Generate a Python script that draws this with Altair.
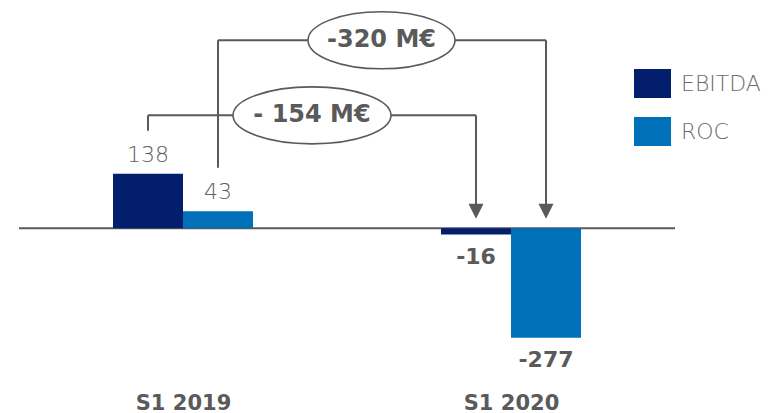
import altair as alt
import pandas as pd

# ---- data ----
categories = ["S1 2019", "S1 2020"]
series = ["EBITDA", "ROC"]
ebitda = [138, -16]
roc = [43, -277]
deltas = ["- 154 M€", "-320 M€"]

colors = ["#041E6E", "#0070B8"]
GRAY = "#5A5A5A"
FONT = "DejaVu Sans"

# ---- scale geometry (data units) ----
W, H = 759, 405
PX_X = 328.0          # pixels per category step
PX_Y = 0.395          # pixels per M€
X0 = 175.0            # pixel of first category centre
Y0 = 220.3            # pixel of zero line
x_dom = [-X0 / PX_X, (W - X0) / PX_X]
y_dom = [-(H - Y0) / PX_Y, Y0 / PX_Y]
BW = 70 / PX_X        # bar width in category units

rows = []
for ci, cat in enumerate(categories):
    for si, (s, vals) in enumerate(zip(series, [ebitda, roc])):
        left = ci - BW if si == 0 else ci
        rows.append(dict(cat=cat, series=s, value=vals[ci], x=left, x2=left + BW,
                         xc=left + BW / 2, label=str(vals[ci]),
                         pos=vals[ci] >= 0))
bars_df = pd.DataFrame(rows)

xs = alt.Scale(domain=x_dom, nice=False, zero=False)
ys = alt.Scale(domain=y_dom, nice=False, zero=False)

x_axis = alt.Axis(values=[0, 1],
                  labelExpr="datum.value == 0 ? '%s' : '%s'" % tuple(categories),
                  domain=False, ticks=False, grid=False, title=None,
                  labelFont=FONT, labelFontSize=21, labelFontWeight="bold",
                  labelColor=GRAY, labelBaseline="alphabetic", labelPadding=-4)

X = lambda f: alt.X(f, type="quantitative", scale=xs, axis=x_axis)
Y = lambda f: alt.Y(f, type="quantitative", scale=ys, axis=None)

color = alt.Color("series:N", scale=alt.Scale(domain=series, range=colors),
                  legend=alt.Legend(title=None, orient="none", legendX=626, legendY=57,
                                    symbolType="M-1,-0.78L1,-0.78L1,0.78L-1,0.78Z",
                                    symbolSize=1369, symbolStrokeWidth=0,
                                    labelFont=FONT, labelFontSize=22, labelFontWeight=300,
                                    labelColor="#6A6A6A", labelOffset=10,
                                    rowPadding=15, padding=0, labelLimit=300))

bars = alt.Chart(bars_df).mark_bar().encode(
    x=X("x"),
    x2="x2:Q",
    y=Y("value"),
    y2=alt.datum(0),
    color=color,
)

pos_labels = alt.Chart(bars_df).transform_filter("datum.pos").mark_text(
    font=FONT, fontSize=22, fontWeight=300, color="#606060", baseline="alphabetic", dy=-12
).encode(x=X("xc"), y=Y("value"), text="label:N")

neg_labels = alt.Chart(bars_df).transform_filter("!datum.pos").mark_text(
    font=FONT, fontSize=22, fontWeight="bold", color=GRAY, baseline="alphabetic", dy=29
).encode(x=X("xc"), y=Y("value"), text="label:N")

# zero line
zero_df = pd.DataFrame([dict(x=-0.5, x2=1.5, y=0)])
zero = alt.Chart(zero_df).mark_rule(color=GRAY, strokeWidth=2).encode(
    x=X("x"), x2="x2:Q", y=Y("y"))

# bracket annotations
e19, r19 = -BW / 2, BW / 2
e20, r20 = 1 - BW / 2, 1 + BW / 2
lvl154, lvl320 = 286, 476
arrow_tip = 24
arrow_c = arrow_tip + 7.5 / PX_Y
segs = pd.DataFrame([
    dict(x=e19, x2=e19, y=247, y2=lvl154),
    dict(x=e19, x2=e20, y=lvl154, y2=lvl154),
    dict(x=e20, x2=e20, y=lvl154, y2=arrow_c),
    dict(x=r19, x2=r19, y=153, y2=lvl320),
    dict(x=r19, x2=r20, y=lvl320, y2=lvl320),
    dict(x=r20, x2=r20, y=lvl320, y2=arrow_c),
])
lines = alt.Chart(segs).mark_rule(color=GRAY, strokeWidth=2).encode(
    x=X("x"), x2="x2:Q", y=Y("y"), y2="y2:Q")

arrows_df = pd.DataFrame([dict(x=e20, y=arrow_c), dict(x=r20, y=arrow_c)])
arrows = alt.Chart(arrows_df).mark_point(
    shape="M-1,-1L1,-1L0,1Z", size=225, filled=True, color=GRAY, opacity=1, strokeWidth=0
).encode(x=X("x"), y=Y("y"))


def ell(ry):
    k = 0.5523
    return ("M-1,0C-1,{a} {b},{c} 0,{c}C{k},{c} 1,{a} 1,0C1,{d} {k},{e} 0,{e}C{b},{e} -1,{d} -1,0Z"
            .format(a=-k * ry, b=-k, c=-ry, d=k * ry, e=ry, k=k))


ell_df = pd.DataFrame([
    dict(x=(304 - X0) / PX_X, y=lvl154, text=deltas[0], shape=ell(57 / 158), size=158 ** 2),
    dict(x=(373.5 - X0) / PX_X, y=lvl320, text=deltas[1], shape=ell(57 / 147), size=147 ** 2),
])
ellipses = alt.Chart(ell_df).mark_point(
    filled=False, fill="white", fillOpacity=1, stroke=GRAY, strokeWidth=1.6, opacity=1
).encode(x=X("x"), y=Y("y"), shape=alt.Shape("shape:N", scale=None),
         size=alt.Size("size:Q", scale=None))
ell_text = alt.Chart(ell_df).mark_text(
    font=FONT, fontSize=24, fontWeight="bold", color=GRAY, baseline="middle"
).encode(x=X("x"), y=Y("y"), text="text:N")

chart = alt.layer(zero, bars, lines, arrows, ellipses, ell_text, pos_labels, neg_labels).properties(
    width=W, height=H, autosize=alt.AutoSizeParams(type="none"),
    padding={"left": 0, "right": 0, "top": 0, "bottom": 0},
    background="white",
).configure_view(stroke=None)

chart.save("out.html", embed_options={"renderer": "svg", "actions": False})
